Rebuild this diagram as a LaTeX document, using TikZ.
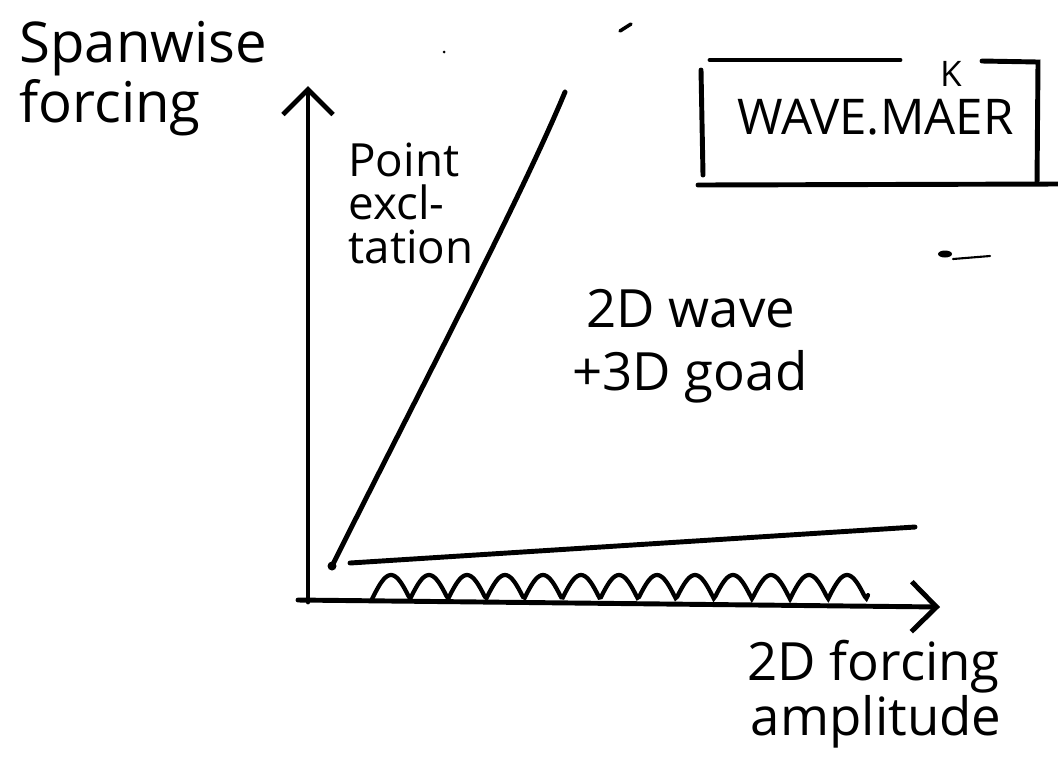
\documentclass[tikz,border=0pt]{standalone}
\usepackage{fontspec}
\setmainfont{Open Sans}
\usetikzlibrary{arrows.meta}

\begin{document}
\begin{tikzpicture}[x=0.01cm, y=-0.01cm, line width=1.4pt, line cap=round,
	every node/.style={font=\fontsize{16}{14}\selectfont, inner sep=0pt},
	axis/.style={-{Straight Barb[length=2.5mm, width=5mm, line width=1.4pt]}},
	hand/.style={align=left, anchor=north west}]
	\useasboundingbox (0,0) rectangle (1058,760);
	\coordinate (origin) at (308,602);
	\coordinate (ytop) at (308,86);
	\coordinate (xend) at (940,607);
	\coordinate (xstart) at (298,600);
	\draw[axis] (origin) -- (ytop);
	\draw[axis] (xstart) -- (xend);
	\coordinate (pstart) at (332,566);
	\coordinate (pend) at (565,92);
	\fill (pstart) circle (4.5);
	\draw (pstart) .. controls (420,390) and (520,200) .. (pend);
	\coordinate (lstart) at (350,563);
	\coordinate (lend) at (915,527);
	\draw (lstart) -- (lend);
	\draw[line width=1.2pt] plot[domain=0:496, samples=300] ({372+\x}, {599 - 24*abs(sin(4.7368*\x))});
	\node[hand] (span) at (17,19) {Spanwise\\forcing};
	\node[hand, font=\fontsize{13}{12.5}\selectfont] (point) at (346,140) {Point\\excl-\\tation};
	\node[hand, font=\fontsize{15}{18}\selectfont] (wave) at (570,287) {\hspace{4pt}2D wave\\+3D goad};
	\node[hand, font=\fontsize{15}{15.6}\selectfont] (ampl) at (745,638) {2D forcing\\\hspace{1pt}amplitude};
	\node[font=\fontsize{14}{14}\selectfont, anchor=base west] (maker) at (735,134) {WAVE.MAER};
	\node[font=\fontsize{10}{10}\selectfont, anchor=base] (k) at (951,86) {K};
	\draw (710,60) -- (900,60);
	\draw (982,61) -- (1038,62) -- (1037,183);
	\draw (701,70) -- (703,175);
	\draw (698,185) -- (1058,184);
	\fill (945,254) ellipse (7 and 3.5);
	\draw[line width=0.6pt] (953,259) -- (990,256);
	\draw[line width=1pt] (620,31) -- (631,24);
	\fill (444,52) circle (1.5);
\end{tikzpicture}
\end{document}
